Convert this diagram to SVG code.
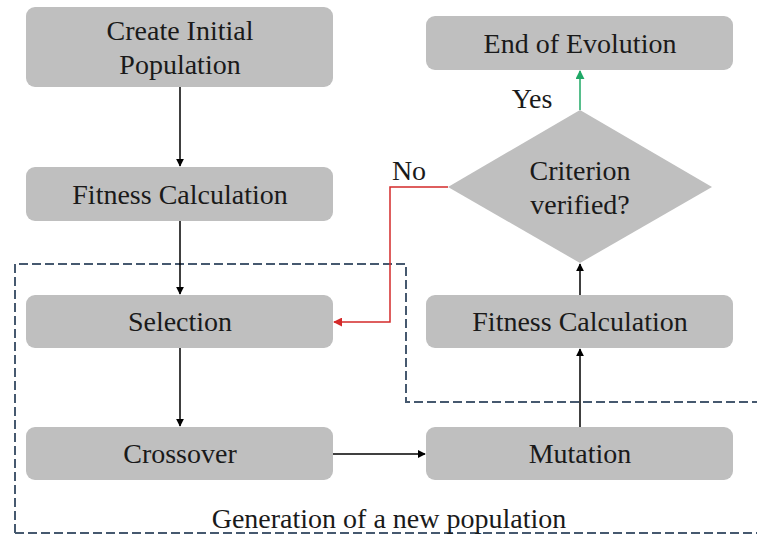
<svg xmlns="http://www.w3.org/2000/svg" width="757" height="539" viewBox="0 0 757 539" font-family="Liberation Serif, Times New Roman, serif">
  <style>
    .box { fill: #bfbfbf; }
    .lbl { font-family: "Liberation Serif", "Times New Roman", serif; font-size: 28px; fill: #1a1a1a; text-anchor: middle; }
    .edge { fill: none; stroke: #000; stroke-width: 1.5; }
    .frame { fill: none; stroke: #46596f; stroke-width: 2; stroke-dasharray: 9 4; }
  </style>
  <defs>
    <marker id="arrow" viewBox="0 0 10 10" refX="9" refY="5" markerWidth="8" markerHeight="8" markerUnits="userSpaceOnUse" orient="auto">
      <path d="M0,0 L10,5 L0,10 z" fill="#000"/>
    </marker>
    <marker id="arrowRed" viewBox="0 0 10 10" refX="9" refY="5" markerWidth="9" markerHeight="9" markerUnits="userSpaceOnUse" orient="auto">
      <path d="M0,0 L10,5 L0,10 z" fill="#d42a2a"/>
    </marker>
    <marker id="arrowGreen" viewBox="0 0 10 10" refX="9" refY="5" markerWidth="9" markerHeight="9" markerUnits="userSpaceOnUse" orient="auto">
      <path d="M0,0 L10,5 L0,10 z" fill="#1fa866"/>
    </marker>
  </defs>

  <rect width="757" height="539" fill="#fff"/>

  <!-- dashed frame around the generation loop -->
  <g id="generation-frame">
    <path class="frame" d="M15,533 L15,264 L406,264 L406,402 L760,402"/>
    <path class="frame" d="M15,533 L760,533"/>
    <text class="lbl" font-family="Liberation Serif" x="389" y="528">Generation of a new population</text>
  </g>

  <g id="connectors">
    <line class="edge" x1="180" y1="87" x2="180" y2="166" marker-end="url(#arrow)"/>
    <line class="edge" x1="180" y1="221" x2="180" y2="294" marker-end="url(#arrow)"/>
    <line class="edge" x1="180" y1="348" x2="180" y2="426" marker-end="url(#arrow)"/>
    <line class="edge" x1="333" y1="454" x2="425" y2="454" marker-end="url(#arrow)"/>
    <line class="edge" x1="580" y1="427" x2="580" y2="349" marker-end="url(#arrow)"/>
    <line class="edge" x1="580" y1="295" x2="580" y2="264" marker-end="url(#arrow)"/>
    <line x1="580" y1="110" x2="580" y2="71" stroke="#1fa866" stroke-width="1.5" marker-end="url(#arrowGreen)"/>
    <path d="M448,187 L390,187 L390,322 L334,322" fill="none" stroke="#d42a2a" stroke-width="1.5" marker-end="url(#arrowRed)"/>
    <text class="lbl" x="409" y="180">No</text>
    <text class="lbl" x="532" y="108">Yes</text>
  </g>

  <g id="create-population">
    <rect class="box" x="26" y="7" width="307" height="80" rx="9"/>
    <text class="lbl" x="180" y="40">Create Initial</text>
    <text class="lbl" x="180" y="74">Population</text>
  </g>

  <g id="fitness-initial">
    <rect class="box" x="26" y="167" width="307" height="54" rx="9"/>
    <text class="lbl" x="180" y="204">Fitness Calculation</text>
  </g>

  <g id="selection">
    <rect class="box" x="26" y="295" width="307" height="53" rx="9"/>
    <text class="lbl" x="180" y="331">Selection</text>
  </g>

  <g id="crossover">
    <rect class="box" x="26" y="427" width="307" height="53" rx="9"/>
    <text class="lbl" x="180" y="463">Crossover</text>
  </g>

  <g id="mutation">
    <rect class="box" x="426" y="427" width="307" height="53" rx="9"/>
    <text class="lbl" x="580" y="463">Mutation</text>
  </g>

  <g id="fitness-offspring">
    <rect class="box" x="426" y="295" width="307" height="53" rx="9"/>
    <text class="lbl" x="580" y="331">Fitness Calculation</text>
  </g>

  <g id="criterion">
    <polygon class="box" points="580,110 712,187 580,263 448,187"/>
    <text class="lbl" x="580" y="180">Criterion</text>
    <text class="lbl" x="580" y="214">verified?</text>
  </g>

  <g id="end-evolution">
    <rect class="box" x="426" y="16" width="307" height="54" rx="9"/>
    <text class="lbl" x="580" y="53">End of Evolution</text>
  </g>
</svg>
